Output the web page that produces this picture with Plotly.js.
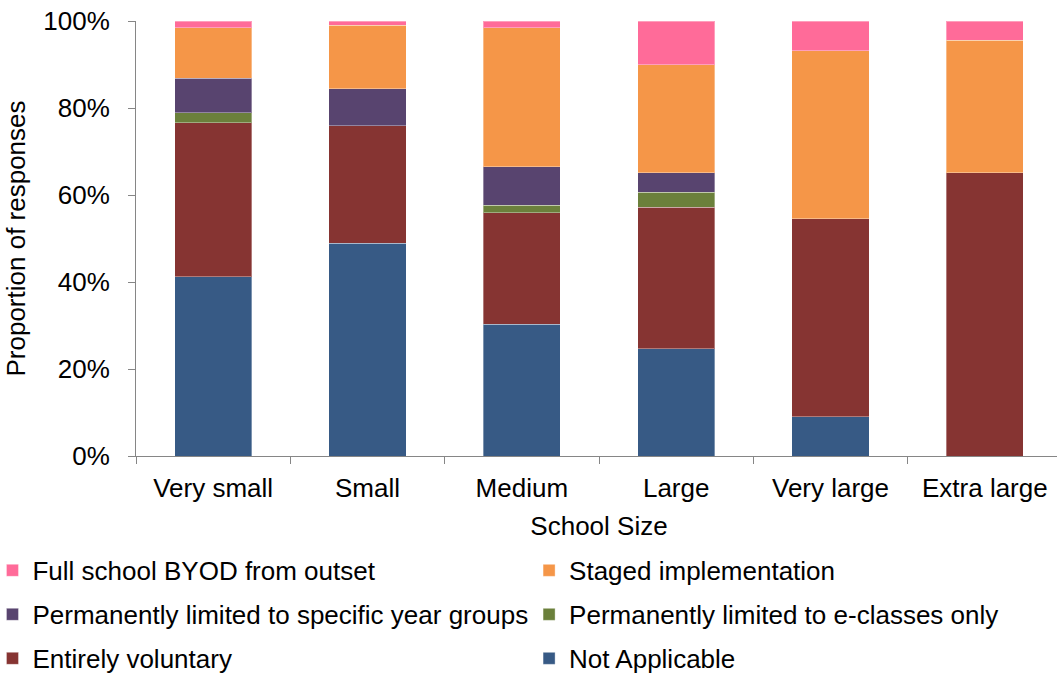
<!DOCTYPE html>
<html>
<head>
<meta charset="utf-8">
<script src="https://cdn.plot.ly/plotly-3.0.1.min.js"></script>
<style>html,body{margin:0;padding:0;background:#fff;overflow:hidden;}#chart{width:1062px;height:677px;}</style>
</head>
<body>
<div id="chart"></div>
<script>
const categories = ["Very small", "Small", "Medium", "Large", "Very large", "Extra large"];
const notApplicable = [41.2, 48.9, 30.3, 24.6, 9.0, 0];
const entirelyVoluntary = [35.4, 27.0, 25.6, 32.6, 45.5, 65.1];
const eClassesOnly = [2.3, 0, 1.7, 3.4, 0, 0];
const specificYearGroups = [7.9, 8.5, 8.9, 4.5, 0, 0];
const stagedImplementation = [11.7, 14.6, 32.0, 24.8, 38.7, 30.5];
const fullSchool = [1.5, 1.0, 1.5, 10.1, 6.8, 4.4];
const yTicks = [0, 20, 40, 60, 80, 100];
const yTickLabels = ["0%", "20%", "40%", "60%", "80%", "100%"];

const seriesDefs = [
  {name: "Not Applicable", y: notApplicable, color: "#375a85", legend: "legend2", rank: 3},
  {name: "Entirely voluntary", y: entirelyVoluntary, color: "#863432", legend: "legend", rank: 3},
  {name: "Permanently limited to e-classes only", y: eClassesOnly, color: "#6b803b", legend: "legend2", rank: 2},
  {name: "Permanently limited to specific year groups", y: specificYearGroups, color: "#58446f", legend: "legend", rank: 2},
  {name: "Staged implementation", y: stagedImplementation, color: "#f59648", legend: "legend2", rank: 1},
  {name: "Full school BYOD from outset", y: fullSchool, color: "#ff6b99", legend: "legend", rank: 1}
];

const traces = seriesDefs.map((s, i) => ({
  type: "bar",
  name: s.name,
  x: categories,
  y: s.y,
  legend: s.legend,
  legendgroup: "g" + i,
  legendrank: s.rank * 100,
  marker: {color: s.color, line: {color: "rgba(255,255,255,0.35)", width: 1}},
  hoverinfo: "x+y+name"
}));

const font = {family: "Liberation Sans, Arial, sans-serif", size: 26, color: "#000"};

const layout = {
  width: 1062, height: 677,
  margin: {l: 136, r: 0, t: 21, b: 221, autoexpand: false},
  barmode: "stack",
  bargap: 0.5,
  paper_bgcolor: "#fff",
  plot_bgcolor: "#fff",
  font: font,
  showlegend: true,
  xaxis: {
    type: "category",
    automargin: false,
    tickson: "boundaries",
    ticks: "outside", ticklen: 7, tickcolor: "#868686", tickwidth: 1,
    ticklabelstandoff: 9,
    showline: true, linecolor: "#868686", linewidth: 1,
    showgrid: false,
    tickfont: font,
    title: {text: "School Size", font: font, standoff: 14}
  },
  yaxis: {
    range: [0, 100],
    automargin: false,
    tickmode: "array",
    tickvals: yTicks,
    ticktext: yTickLabels,
    ticks: "outside", ticklen: 7, tickcolor: "#868686", tickwidth: 1,
    ticklabelstandoff: 13,
    showline: true, linecolor: "#868686", linewidth: 1,
    showgrid: false, zeroline: false,
    tickfont: font,
    title: {text: "Proportion of responses", font: font, standoff: 10}
  },
  legend: {
    orientation: "v", traceorder: "grouped", tracegroupgap: 7.2,
    x: -0.155, xanchor: "left", y: -0.209, yanchor: "top",
    font: font, itemwidth: 30, bgcolor: "rgba(0,0,0,0)"
  },
  legend2: {
    orientation: "v", traceorder: "grouped", tracegroupgap: 7.2,
    x: 0.4245, xanchor: "left", y: -0.209, yanchor: "top",
    font: font, itemwidth: 30, bgcolor: "rgba(0,0,0,0)"
  }
};

Plotly.newPlot("chart", traces, layout, {displayModeBar: false, staticPlot: true});
</script>
</body>
</html>
